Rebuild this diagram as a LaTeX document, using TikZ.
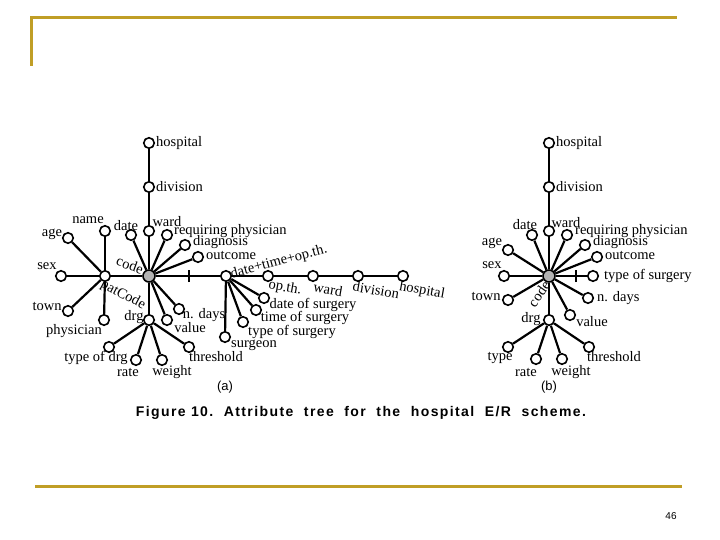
\documentclass[tikz,border=0pt]{standalone}
\usepackage{fontspec}
\setmainfont{Liberation Serif}
\newfontfamily\capfont{Liberation Sans}
\usetikzlibrary{positioning}
\definecolor{slidegold}{RGB}{192,158,38}
\definecolor{hubgray}{RGB}{178,178,178}

\begin{document}
\begin{tikzpicture}[x=1pt, y=-1pt,
  leaf/.style={circle, draw, line width=1.6pt, fill=white, minimum size=10.5pt, inner sep=0pt},
  hub/.style={leaf, fill=hubgray, minimum size=12pt},
  br/.style={line width=2.2pt},
  lbl/.style={font=\fontsize{14.5}{14.5}\selectfont, inner sep=0pt},
  frame/.style={slidegold, line width=3pt}
]
  \useasboundingbox (0,0) rectangle (720,540);

  % slide frame
  \draw[frame] (31,66) -- (31,18) -- (677,18);
  \draw[frame] (35,486) -- (682,486);
  \node[font=\capfont\fontsize{10}{10}\selectfont] (pageno) at (671,516) {46};

  % tree (a): inner nodes
  \node[hub]  (aCode) at (149,276) {};
  \node[leaf] (aPat)  at (105,276) {};
  \node[leaf] (aDT)   at (226,276) {};
  \node[leaf] (aDrg)  at (149,320) {};

  % tree (a): leaves
  \foreach \n/\x/\y in {aHosp/149/143, aDiv/149/187, aWard/149/231, aDate/131/235,
      aReq/167/235, aDiag/185/245, aOut/198/257, aNdays/179/309, aVal/167/320,
      aName/105/231, aAge/68/238, aSex/61/276, aTown/68/311, aPhys/104/320,
      aTdrg/109/347, aRate/136/360, aWeight/162/360, aThr/189/347,
      aOpth/268/276, aDos/264/298, aTos/256/310, aTys/243/322, aSurg/225/337,
      aWard2/313/276, aDiv2/358/276, aHosp2/403/276} {
    \node[leaf] (\n) at (\x,\y) {};
  }

  % tree (a): branches
  \foreach \a/\b in {aCode/aWard, aWard/aDiv, aDiv/aHosp, aCode/aDate, aCode/aReq,
      aCode/aDiag, aCode/aOut, aCode/aNdays, aCode/aVal, aCode/aPat, aCode/aDrg, aCode/aDT,
      aPat/aName, aPat/aAge, aPat/aSex, aPat/aTown, aPat/aPhys,
      aDrg/aTdrg, aDrg/aRate, aDrg/aWeight, aDrg/aThr,
      aDT/aOpth, aDT/aDos, aDT/aTos, aDT/aTys, aDT/aSurg,
      aOpth/aWard2, aWard2/aDiv2, aDiv2/aHosp2} {
    \draw[br] (\a) -- (\b);
  }
  \coordinate (aTick) at (189,276);
  \draw[br] ([yshift=-6pt]aTick) -- ([yshift=6pt]aTick);

  % tree (a): labels
  \foreach \n/\x/\y/\t in {laHosp/156/143/hospital, laDiv/156/187/division,
      laReq/174/231/requiring physician, laDiag/193/242/diagnosis, laOut/206/255/outcome} {
    \node[lbl, anchor=west] (\n) at (\x,\y) {\t};
  }
  \foreach \n/\x/\y/\t in {laWard/167/222/ward, laDate/126/226/date, laName/88/220/name,
      laAge/52/234/age, laSex/47/266/sex, laTown/47/306/town, laPhys/74/331/physician,
      laDrg/134/317/drg, laTdrg/96/358/type of drg, laRate/128/372/rate,
      laWeight/172/372/weight, laThr/216/357/threshold, laVal/190/328/value,
      laNdays/204/315/n. days, laDos/313/305/date of surgery, laTos/305/318/time of surgery,
      laTys/292/332/type of surgery, laSurg/254/345/surgeon} {
    \node[lbl] (\n) at (\x,\y) {\t};
  }
  \node[lbl, rotate=-20] (laCode) at (130,265) {code};
  \node[lbl, rotate=-28] (laPat) at (123,295) {patCode};
  \node[lbl, rotate=15] (laDT) at (279,262) {date+time+op.th.};
  \foreach \n/\x/\y/\t in {laOpth/285/288/op.th., laWard2/328/289/ward,
      laDiv2/376/290/division, laHosp2/422/291/hospital} {
    \node[lbl, rotate=-10] (\n) at (\x,\y) {\t};
  }
  \node[font=\capfont\fontsize{13}{13}\selectfont] (capA) at (225,387) {(a)};

  % tree (b): nodes
  \node[hub]  (bCode) at (549,276) {};
  \node[leaf] (bDrg)  at (549,320) {};
  \foreach \n/\x/\y in {bHosp/549/143, bDiv/549/187, bWard/549/231, bDate/532/235,
      bReq/567/235, bDiag/585/245, bOut/597/257, bTos/593/276, bNdays/588/298,
      bVal/570/315, bTown/508/300, bSex/504/276, bAge/508/250,
      bType/508/347, bRate/536/359, bWeight/562/359, bThr/589/347} {
    \node[leaf] (\n) at (\x,\y) {};
  }

  % tree (b): branches
  \foreach \a/\b in {bCode/bWard, bWard/bDiv, bDiv/bHosp, bCode/bDate, bCode/bReq,
      bCode/bDiag, bCode/bOut, bCode/bTos, bCode/bNdays, bCode/bVal, bCode/bDrg,
      bCode/bTown, bCode/bSex, bCode/bAge,
      bDrg/bType, bDrg/bRate, bDrg/bWeight, bDrg/bThr} {
    \draw[br] (\a) -- (\b);
  }
  \coordinate (bTick) at (576,276);
  \draw[br] ([yshift=-6pt]bTick) -- ([yshift=6pt]bTick);

  % tree (b): labels
  \foreach \n/\x/\y/\t in {lbHosp/556/143/hospital, lbDiv/556/187/division,
      lbReq/575/231/requiring physician, lbDiag/593/242/diagnosis, lbOut/605/255/outcome,
      lbTos/604/276/type of surgery, lbNdays/597/298/n. days} {
    \node[lbl, anchor=west] (\n) at (\x,\y) {\t};
  }
  \foreach \n/\x/\y/\t in {lbWard/566/223/ward, lbDate/525/225/date, lbAge/492/243/age,
      lbSex/492/265/sex, lbTown/486/296/town, lbDrg/531/319/drg, lbType/500/358/type,
      lbRate/526/372/rate, lbWeight/571/372/weight, lbThr/614/357/threshold,
      lbVal/592/322/value} {
    \node[lbl] (\n) at (\x,\y) {\t};
  }
  \node[lbl, rotate=55] (lbCode) at (539,294) {code};
  \node[font=\capfont\fontsize{13}{13}\selectfont] (capB) at (549,387) {(b)};

  % caption
  \node[font=\capfont\bfseries\fontsize{14}{14}\selectfont\addfontfeature{LetterSpace=10}] (caption) at (361,413)
    {Figure 10.\ \ Attribute\ \ tree\ \ for\ \ the\ \ hospital\ \ E/R\ \ scheme.};
\end{tikzpicture}
\end{document}
